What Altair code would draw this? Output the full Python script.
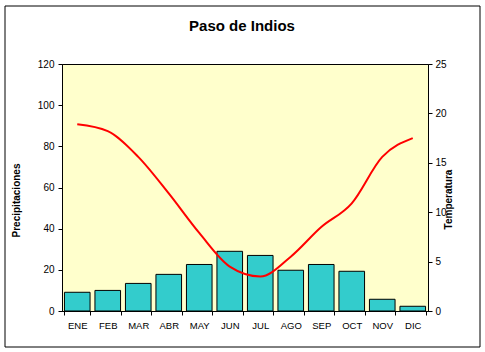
import altair as alt
import pandas as pd

months = ["ENE", "FEB", "MAR", "ABR", "MAY", "JUN", "JUL", "AGO", "SEP", "OCT", "NOV", "DIC"]
precip = [9.1, 10.0, 13.4, 17.8, 22.6, 29.0, 27.0, 19.8, 22.6, 19.3, 5.7, 2.3]
temp = [18.9, 18.2, 15.6, 11.9, 7.9, 4.5, 3.5, 5.5, 8.5, 10.9, 15.6, 17.5]

df = pd.DataFrame({"mes": months, "Precipitaciones": precip, "Temperatura": temp})

FONT = "Liberation Sans"

xenc = alt.X(
    "mes:N",
    sort=months,
    title=None,
    scale=alt.Scale(paddingInner=0.16, paddingOuter=0.08),
    axis=alt.Axis(
        labelAngle=0, tickBand="extent", tickSize=4, labelPadding=5,
        labelFontSize=9.5, labelColor="black", domainColor="black", tickColor="black",
        labelFont=FONT,
    ),
)

bars = alt.Chart(df).mark_bar(color="#33CCCC", stroke="black", strokeWidth=1).encode(
    x=xenc,
    y=alt.Y(
        "Precipitaciones:Q",
        scale=alt.Scale(domain=[0, 120]),
        axis=alt.Axis(
            values=[0, 20, 40, 60, 80, 100, 120], orient="left", grid=False,
            tickSize=4, labelPadding=4, labelFontSize=10, labelColor="black",
            domainColor="black", tickColor="black", labelFont=FONT,
            title="Precipitaciones", titleFont=FONT, titleFontSize=10, titleFontWeight="bold",
            titleAngle=270, titleX=-46, titleY=136, titleBaseline="middle", titleAlign="center",
            titleColor="black",
        ),
    ),
)

line = alt.Chart(df).mark_line(color="#FF0000", strokeWidth=2, interpolate="monotone").encode(
    x=alt.X("mes:N", sort=months),
    y=alt.Y(
        "Temperatura:Q",
        scale=alt.Scale(domain=[0, 25]),
        axis=alt.Axis(
            values=[0, 5, 10, 15, 20, 25], orient="right", grid=False,
            tickSize=4, labelPadding=3, labelFontSize=10, labelColor="black",
            domainColor="black", tickColor="black", labelFont=FONT,
            title="Temperatura", titleFont=FONT, titleFontSize=10, titleFontWeight="bold",
            titleAngle=270, titleX=20, titleY=135, titleBaseline="middle", titleAlign="center",
            titleColor="black",
        ),
    ),
)

frame = alt.Chart(pd.DataFrame({"a": [0]})).mark_rect(
    fillOpacity=0, stroke="black", strokeWidth=1
).encode(
    x=alt.value(-57), x2=alt.value(418), y=alt.value(-58), y2=alt.value(283)
)

chart = alt.layer(bars, line, frame).resolve_scale(y="independent").properties(
    width=366,
    height=247,
    background="white",
    autosize=alt.AutoSizeParams(type="none"),
    padding={"left": 62, "top": 64, "right": 57, "bottom": 41},
    title=alt.TitleParams(
        "Paso de Indios", font=FONT, fontSize=15, fontWeight="bold", color="black",
        anchor="middle", frame="group", offset=0, baseline="alphabetic", dx=-3, dy=40,
    ),
).configure_view(fill="#FFFFCC", stroke="black", strokeWidth=1)

chart.save("out.html", embed_options={"renderer": "svg", "actions": False})
